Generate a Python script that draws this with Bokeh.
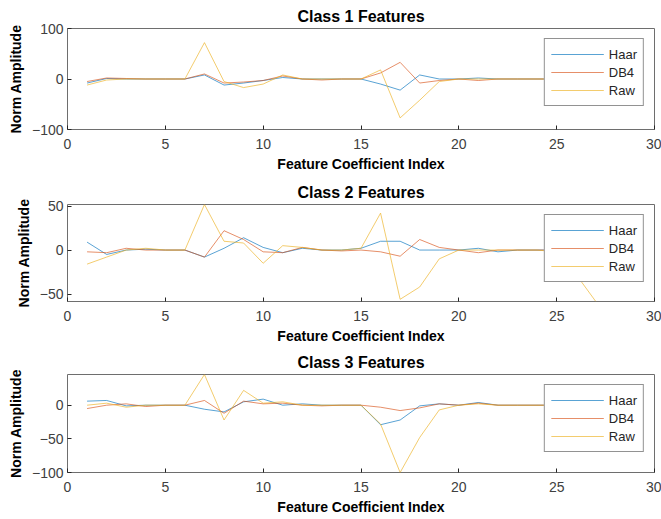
from bokeh.plotting import figure
from bokeh.models import Range1d, FixedTicker, Legend, LegendItem
from bokeh.layouts import column
from bokeh.embed import file_html
from bokeh.resources import INLINE

# ---------------- data ----------------
x_index = list(range(1, 28))

haar_c1 = [-8, 1, 0, 0, 0, 0, 8, -12, -8, -3, 3, 0, 0, 0, 0, -10, -22, 8, 0, 0, 2, 0, 0, 0, 0, 0, 0]
db4_c1 = [-5, 2, 1, 0, 0, 0, 10, -8, -6, -3, 6, 0, -2, 0, 0, 12, 33, -8, -3, 0, -3, 0, 0, 0, 0, 0, 0]
raw_c1 = [-12, -2, 0, 0, 0, 0, 72, -5, -17, -10, 8, 0, 0, 0, 0, 18, -77, -42, -5, 0, 0, 0, 0, 0, 0, 0, 0]

haar_c2 = [9, -5, 0, 1, 0, 0, -8, 2, 14, 3, -3, 2, 0, 0, 2, 10, 10, 0, 0, 0, 2, -2, 0, 0, 0, 0, 0]
db4_c2 = [-2, -3, 2, 0, 0, 0, -8, 22, 12, -2, -3, 3, 0, -1, 0, -2, -7, 12, 3, 0, -3, 0, 0, 0, 0, 0, 0]
raw_c2 = [-16, -8, 0, 2, 0, 0, 51.8, 10, 8, -15, 5, 3, 0, 0, 2, 42, -56, -42, -10, 0, 0, 0, 0, 0, -2, -28, -58.5]

haar_c3 = [6, 7, -1, 0, 0, 0, -6, -10, 5, 9, 0, 2, 0, 0, 0, -29, -22, -1, 2, 0, 4, 0, 0, 0, 0, 0, 0]
db4_c3 = [-5, 0, 2, -2, 0, 0, 7, -12, 6, 2, 3, 0, -1, 0, 0, -3, -8, -4, 2, 0, 3, 0, 0, 0, 0, 0, 0]
raw_c3 = [0, 3, -3, 0, 0, 0, 45.6, -22, 22, 3, 5, 0, 0, 0, 0, -28, -100, -48, -7, 0, 2, 0, 0, 0, 0, 0, 0]

titles = ["Class 1 Features", "Class 2 Features", "Class 3 Features"]
series_names = ["Haar", "DB4", "Raw"]
x_ticks = [0, 5, 10, 15, 20, 25, 30]
y_ticks = [[-100, 0, 100], [-50, 0, 50], [-100, -50, 0]]
y_limits = [(-100, 100), (-58.5, 51.8), (-100, 45.6)]
all_series = [(haar_c1, db4_c1, raw_c1), (haar_c2, db4_c2, raw_c2), (haar_c3, db4_c3, raw_c3)]

colors = ["#0072BD", "#D95319", "#EDB120"]
FONT = "Liberation Sans"
AX = "#262626"

heights = [178, 170, 170]
borders_top = [28, 24, 24]
borders_bottom = [49, 47, 46]

figs = []
for i in range(3):
    p = figure(width=661, height=heights[i], output_backend="svg", toolbar_location=None,
               x_range=Range1d(0, 30), y_range=Range1d(*y_limits[i]),
               min_border_left=67, min_border_right=7,
               min_border_top=borders_top[i], min_border_bottom=borders_bottom[i])
    p.title.text = titles[i]
    p.title.align = "center"
    p.title.text_font = FONT
    p.title.text_font_size = "16px"
    p.title.text_font_style = "bold"
    p.title.text_color = "#000000"
    p.title.standoff = 7

    p.grid.visible = False
    p.outline_line_color = "#6e6e6e"
    p.outline_line_width = 1
    p.background_fill_color = "white"

    p.xaxis.ticker = FixedTicker(ticks=x_ticks)
    p.yaxis.ticker = FixedTicker(ticks=y_ticks[i])
    for ax in (p.xaxis[0], p.yaxis[0]):
        ax.axis_line_color = None
        ax.major_tick_in = 4
        ax.major_tick_out = 0
        ax.major_tick_line_color = AX
        ax.minor_tick_line_color = None
        ax.major_label_text_font = FONT
        ax.major_label_text_font_size = "14px"
        ax.major_label_text_color = "#404040"
        ax.axis_label_text_font = FONT
        ax.axis_label_text_font_size = "14px"
        ax.axis_label_text_font_style = "bold"
        ax.axis_label_text_color = "#000000"
    p.xaxis.axis_label = "Feature Coefficient Index"
    p.yaxis.axis_label = "Norm Amplitude"
    p.xaxis.major_label_standoff = 9
    p.xaxis.axis_label_standoff = 4
    p.yaxis.major_label_standoff = 4
    p.yaxis.axis_label_standoff = 5

    items = []
    for name, ys, c in zip(series_names, all_series[i], colors):
        r = p.line(x_index, ys, line_color=c, line_width=1.0, line_alpha=0.65)
        items.append(LegendItem(label=name, renderers=[r]))

    leg = Legend(items=items, location="top_right")
    leg.margin = 10
    leg.padding = 6
    leg.spacing = 0
    leg.glyph_width = 53
    leg.glyph_height = 18
    leg.label_height = 18
    leg.label_standoff = 5
    leg.label_text_font = FONT
    leg.label_text_font_size = "13px"
    leg.label_text_color = "#262626"
    leg.border_line_color = AX
    leg.border_line_width = 1
    leg.background_fill_color = "white"
    leg.background_fill_alpha = 1.0
    p.add_layout(leg, "center")
    figs.append(p)

layout = column(*figs, spacing=0)
open("out.html", "w").write(file_html(layout, INLINE))
